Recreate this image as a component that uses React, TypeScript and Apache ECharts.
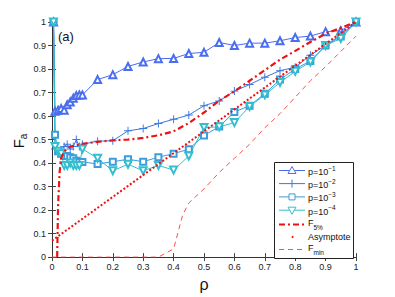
import React, { useEffect, useRef } from "react";
import * as echarts from "echarts";

// x positions of the simulation points
const rho = [0.005, 0.01, 0.02, 0.03, 0.04, 0.05, 0.06, 0.07, 0.08, 0.09, 0.1, 0.15, 0.2, 0.25, 0.3, 0.35, 0.4, 0.45, 0.5, 0.55, 0.6, 0.65, 0.7, 0.75, 0.8, 0.85, 0.9, 0.95, 1.0];
const p1 = [1, 0.62, 0.625, 0.632, 0.625, 0.648, 0.66, 0.676, 0.687, 0.69, 0.69, 0.755, 0.776, 0.811, 0.83, 0.844, 0.845, 0.866, 0.871, 0.913, 0.9, 0.91, 0.91, 0.92, 0.934, 0.94, 0.959, 0.963, 1.0];
const p2 = [1, 0.46, 0.44, 0.45, 0.47, 0.48, 0.46, 0.47, 0.5, 0.47, 0.48, 0.493, 0.495, 0.537, 0.547, 0.568, 0.586, 0.604, 0.644, 0.664, 0.706, 0.734, 0.765, 0.793, 0.807, 0.859, 0.9, 0.945, 1.0];
const p3 = [1, 0.52, 0.45, 0.44, 0.43, 0.43, 0.425, 0.42, 0.41, 0.405, 0.405, 0.396, 0.406, 0.416, 0.406, 0.425, 0.44, 0.459, 0.517, 0.555, 0.617, 0.644, 0.695, 0.755, 0.8, 0.834, 0.9, 0.938, 1.0];
const p4 = [1, 0.47, 0.45, 0.44, 0.39, 0.39, 0.4, 0.39, 0.39, 0.39, 0.46, 0.42, 0.367, 0.395, 0.367, 0.39, 0.37, 0.43, 0.551, 0.554, 0.572, 0.641, 0.69, 0.743, 0.79, 0.83, 0.9, 0.93, 1.0];

const f5x = [0.017, 0.02, 0.025, 0.03, 0.04, 0.06, 0.1, 0.15, 0.2, 0.25, 0.3, 0.35, 0.4, 0.45, 0.5, 0.55, 0.6, 0.65, 0.7, 0.75, 0.8, 0.85, 0.9, 0.95, 1.0];
const f5y = [0, 0.22, 0.36, 0.42, 0.45, 0.47, 0.482, 0.49, 0.497, 0.5, 0.507, 0.518, 0.535, 0.57, 0.615, 0.665, 0.705, 0.75, 0.795, 0.84, 0.877, 0.915, 0.95, 0.975, 1.0];

const asymX = [0, 1];
const asymY = [0.07, 1];

const fminX = [0, 0.35, 0.4, 0.43, 0.45, 0.5, 0.55, 0.6, 0.65, 0.7, 0.75, 0.8, 0.85, 0.9, 0.95, 1.0];
const fminY = [0, 0, 0.035, 0.18, 0.23, 0.29, 0.36, 0.42, 0.48, 0.55, 0.61, 0.68, 0.75, 0.81, 0.875, 0.94];

const legendLabels = ["p=10{sup|−1}", "p=10{sup|−2}", "p=10{sup|−3}", "p=10{sup|−4}", "F{sub|5%}", "Asymptote", "F{sub|min}"];

const C1 = "#4a6ef0";
const C2 = "#3a78e0";
const C3 = "#3b9ddb";
const C4 = "#33bfcf";
const RED = "#ee1111";
const RED2 = "#ff4f4f";
const FONT = "Liberation Sans, Arial, sans-serif";

const zip = (xs: number[], ys: number[]) => xs.map((x, i) => [x, ys[i]]);
const PLUS = "path://M4.4,0h1.2v4.4h4.4v1.2h-4.4v4.4h-1.2v-4.4h-4.4v-1.2h4.4z";

export default function App() {
  const ref = useRef<HTMLDivElement>(null);
  useEffect(() => {
    if (!ref.current) return;
    const chart = echarts.init(ref.current, null, { renderer: "svg" });
    const axisCommon = {
      type: "value",
      min: 0,
      max: 1,
      interval: 0.1,
      splitLine: { show: false },
      axisLine: { show: true, lineStyle: { color: "#333", width: 1 } },
      axisTick: { show: true, inside: true, length: 4, lineStyle: { color: "#444" } },
    };
    const fmt = (v: number) => String(Math.round(v * 10) / 10);
    const lineSeries = (name: string, ys: number[], color: string, symbol: string, size: number, rotate = 0) => ({
      name,
      type: "line",
      data: zip(rho, ys),
      symbol,
      symbolSize: size,
      symbolRotate: rotate,
      showSymbol: true,
      lineStyle: { color, width: 1 },
      itemStyle: { color },
      clip: false,
      z: 2,
    });

    const lx0 = 279, lx1 = 305, lxm = 292, ltx = 308;
    const rowY = [170.5, 183.6, 196.9, 210.2, 224.5, 237, 249.5];
    const richT = {
      sup: { fontSize: 6.5, fontFamily: FONT, verticalAlign: "top", padding: [0, 0, 8, 0], fill: "#111" },
      sub: { fontSize: 6.5, fontFamily: FONT, verticalAlign: "bottom", padding: [9, 0, 0, 0], fill: "#111" },
    };
    const legendGraphics: any[] = [
      { type: "rect", shape: { x: 274.5, y: 162.5, width: 79, height: 96 }, style: { fill: "#fff", stroke: "#222", lineWidth: 1 }, z: 100 },
    ];
    const iconColors = [C1, C2, C3, C4];
    for (let i = 0; i < 4; i++) {
      const y = rowY[i];
      legendGraphics.push({ type: "line", shape: { x1: lx0, y1: y, x2: lx1, y2: y }, style: { stroke: iconColors[i], lineWidth: 1 }, z: 101 });
    }
    legendGraphics.push({ type: "polygon", shape: { points: [[lxm, rowY[0] - 4], [lxm - 4, rowY[0] + 3], [lxm + 4, rowY[0] + 3]] }, style: { fill: "#fff", stroke: C1, lineWidth: 1 }, z: 102 });
    legendGraphics.push({ type: "line", shape: { x1: lxm, y1: rowY[1] - 4, x2: lxm, y2: rowY[1] + 4 }, style: { stroke: C2, lineWidth: 1 }, z: 102 });
    legendGraphics.push({ type: "rect", shape: { x: lxm - 3, y: rowY[2] - 3, width: 6, height: 6 }, style: { fill: "#fff", stroke: C3, lineWidth: 1 }, z: 102 });
    legendGraphics.push({ type: "polygon", shape: { points: [[lxm - 4, rowY[3] - 3], [lxm + 4, rowY[3] - 3], [lxm, rowY[3] + 4]] }, style: { fill: "#fff", stroke: C4, lineWidth: 1 }, z: 102 });
    legendGraphics.push({ type: "line", shape: { x1: lx0, y1: rowY[4], x2: lx1, y2: rowY[4] }, style: { stroke: RED, lineWidth: 2.2, lineDash: [6, 3, 2, 3] }, z: 101 });
    legendGraphics.push({ type: "circle", shape: { cx: lxm + 0.5, cy: rowY[5], r: 1 }, style: { fill: RED }, z: 101 });
    legendGraphics.push({ type: "line", shape: { x1: lx0, y1: rowY[6], x2: lx1, y2: rowY[6] }, style: { stroke: RED2, lineWidth: 1, lineDash: [5, 4] }, z: 101 });
    const textDy = [1.5, 1.5, 1.5, 1.5, -2, 0, -2];
    legendLabels.forEach((t, i) => {
      legendGraphics.push({
        type: "text",
        x: ltx,
        y: rowY[i] + textDy[i],
        z: 103,
        style: { text: t, fontSize: 9, fontFamily: FONT, fill: "#111", align: "left", verticalAlign: "middle", rich: richT },
      });
    });

    const option: any = {
      animation: false,
      backgroundColor: "#ffffff",
      textStyle: { fontFamily: FONT },
      grid: { left: 52, right: 39, top: 22, bottom: 34 },
      xAxis: [
        {
          ...axisCommon,
          position: "bottom",
          axisLabel: { fontSize: 9, color: "#222", margin: 5, formatter: fmt, fontFamily: FONT },
          name: "ρ",
          nameLocation: "middle",
          nameGap: 9,
          nameTextStyle: { fontSize: 16, color: "#111", fontFamily: FONT },
        },
        { ...axisCommon, position: "top", axisLabel: { show: false } },
      ],
      yAxis: [
        {
          ...axisCommon,
          position: "left",
          axisLabel: { fontSize: 9, color: "#222", margin: 6, formatter: fmt, fontFamily: FONT },
        },
        { ...axisCommon, position: "right", axisLabel: { show: false } },
      ],
      graphic: [
        {
          type: "text",
          x: 18,
          y: 141,
          rotation: Math.PI / 2,
          style: {
            text: "F{s|a}",
            fontSize: 15,
            fontFamily: FONT,
            fill: "#111",
            align: "center",
            verticalAlign: "middle",
            rich: { s: { fontSize: 10, fontFamily: FONT, verticalAlign: "bottom", padding: [10, 0, 0, 0], fill: "#111" } },
          },
        },
        { type: "text", x: 58, y: 36, style: { text: "(a)", fontSize: 13, fontFamily: FONT, fill: "#111", verticalAlign: "middle" } },
        ...legendGraphics,
      ],
      series: [
        lineSeries("p1", p1, C1, "emptyTriangle", 7),
        lineSeries("p2", p2, C2, PLUS, 8),
        lineSeries("p3", p3, C3, "emptyRect", 6),
        lineSeries("p4", p4, C4, "emptyTriangle", 7, 180),
        {
          name: "F5",
          type: "line",
          data: zip(f5x, f5y),
          symbol: "none",
          lineStyle: { color: RED, width: 2.2, type: [6, 3, 2, 3] },
          z: 3,
        },
        {
          name: "Asymptote",
          type: "line",
          data: zip(asymX, asymY),
          symbol: "none",
          lineStyle: { color: RED, width: 2, type: [2, 2] },
          z: 3,
        },
        {
          name: "Fmin",
          type: "line",
          data: zip(fminX, fminY),
          symbol: "none",
          lineStyle: { color: RED2, width: 1, type: [5, 4] },
          z: 3,
        },
      ],
    };
    chart.setOption(option);
    return () => chart.dispose();
  }, []);
  return <div ref={ref} style={{ position: "fixed", left: 0, top: 0, width: 395, height: 297 }} />;
}
